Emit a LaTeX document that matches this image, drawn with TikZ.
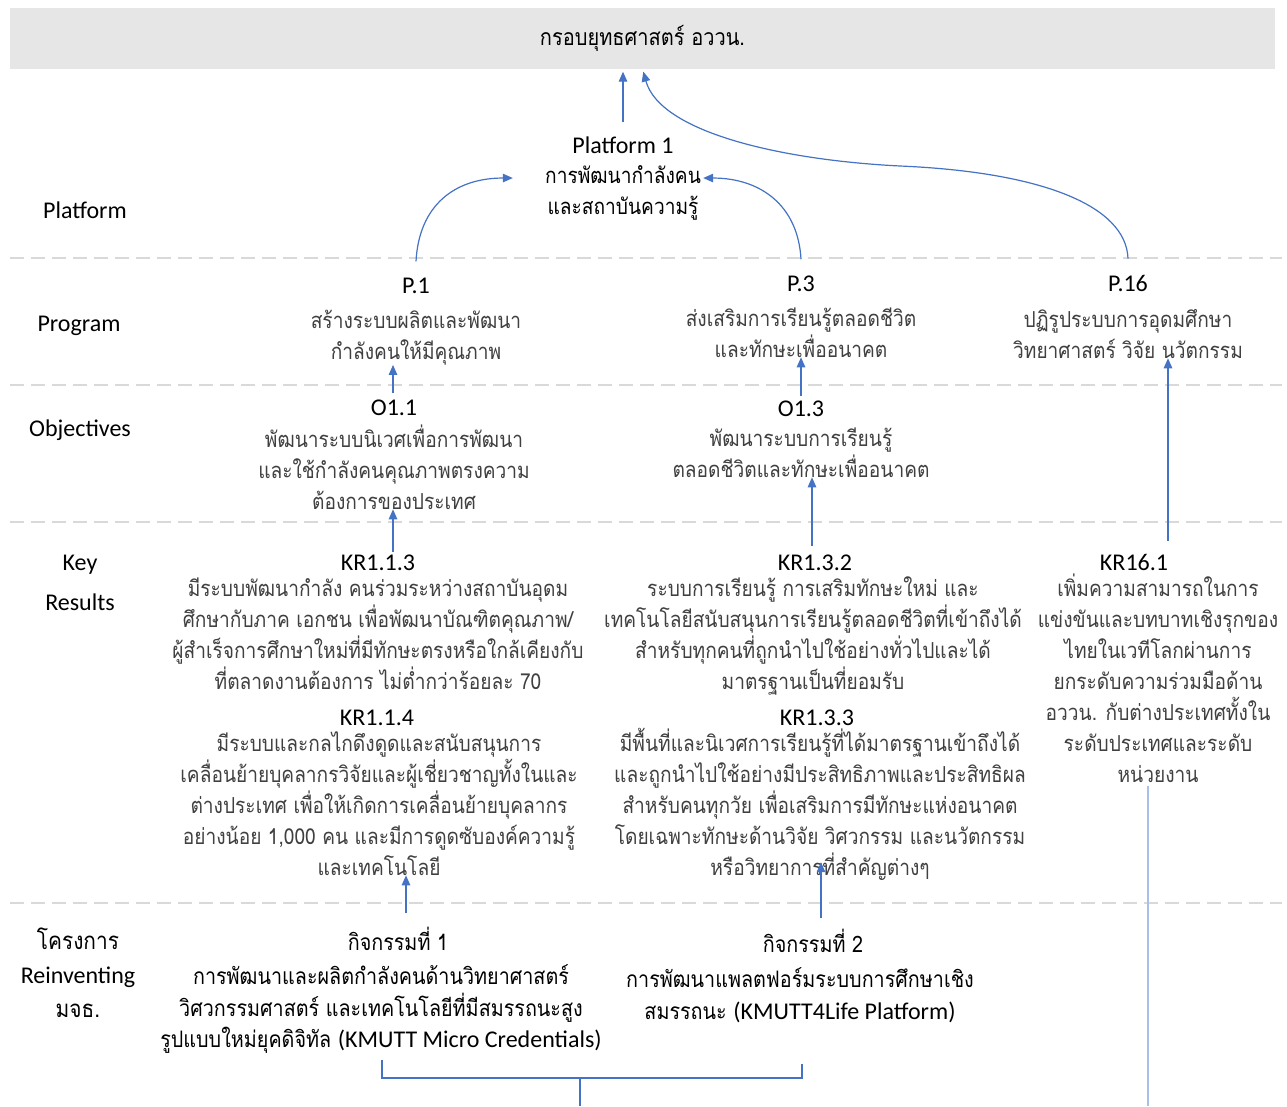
\documentclass[tikz,border=0pt]{standalone}
\usepackage{fontspec}
\setmainfont{Carlito}
\newfontfamily\thf[Script=Thai,FakeStretch=0.87]{Loma}
\usetikzlibrary{arrows.meta}
\definecolor{arrowblue}{HTML}{4472C4}
\definecolor{lightblue}{HTML}{A9C1EA}
\definecolor{dashgray}{HTML}{D9D9D9}
\definecolor{bannergray}{HTML}{E7E6E6}
\definecolor{bodygray}{HTML}{404040}
\newcommand\thx{\thf\fontsize{22}{31}\selectfont}
\newcommand\thact{\thf\fontsize{22.7}{31}\selectfont}
\newcommand\ttlx[1]{{\rmfamily\fontsize{24}{31}\selectfont\color{black}#1}}
\newcommand\latx[1]{{\rmfamily\fontsize{24}{31}\selectfont #1}}
\newcommand\bx[2]{\parbox[t]{#1}{\centering\fontsize{19}{31}\selectfont\leavevmode #2\par}}
\begin{document}
\begin{tikzpicture}[x=1pt,y=-1pt,
  blk/.style={anchor=base,inner sep=0pt,text=bodygray},
  blkb/.style={blk,text=black},
  lbl/.style={anchor=base,inner sep=0pt,text=black},
  arr/.style={draw=arrowblue,line width=1.2pt,-{Triangle[length=10pt,width=8.5pt]}},
  conn/.style={draw=arrowblue,line width=1.2pt},
  lconn/.style={draw=lightblue,line width=2pt},
  sep/.style={draw=dashgray,line width=2.5pt,dash pattern=on 14pt off 7pt}]
\useasboundingbox (0,0) rectangle (1287,1106);
\fill[white] (0,0) rectangle (1287,1106);

% banner
\node[fill=bannergray,minimum width=1265pt,minimum height=61pt,inner sep=0pt,text=black] (banner) at (642.5,38) {\thf\fontsize{23}{31}\selectfont กรอบยุทธศาสตร์ อววน.};

% separators
\draw[sep] (10,258) -- (1282,258);
\draw[sep] (10,385) -- (1282,385);
\draw[sep] (10,522) -- (1282,522);
\draw[sep] (10,903) -- (1282,903);

% row labels
\node[lbl] (lplat) at (85,218) {\bx{150pt}{\latx{Platform}}};
\node[lbl] (lprog) at (79,331) {\bx{150pt}{\latx{Program}}};
\node[lbl] (lobj) at (80,436) {\bx{150pt}{\latx{Objectives}}};
\node[lbl] (lkr) at (80,570) {\bx{150pt}{\fontsize{24}{40}\selectfont Key\\Results}};
\node[lbl] (lre) at (78,949) {\bx{150pt}{\fontsize{24}{34}\selectfont {\thf\fontsize{24}{34}\selectfont โครงการ}\\Reinventing\\{\thf\fontsize{24}{34}\selectfont มจธ.}}};

% platform
\node[blkb] (pl) at (623,153) {\bx{170pt}{\ttlx{Platform 1}\\[-1pt]\thx การพัฒนากำลังคน\\และสถาบันความรู้}};

% programs
\node[blk] (p1) at (416,293) {\bx{300pt}{\ttlx{P.1}\\[4pt]\thx สร้างระบบผลิตและพัฒนา\\กำลังคนให้มีคุณภาพ}};
\node[blk] (p3) at (801,291) {\bx{300pt}{\ttlx{P.3}\\[4pt]\thx ส่งเสริมการเรียนรู้ตลอดชีวิต\\และทักษะเพื่ออนาคต}};
\node[blk] (p16) at (1128,291) {\bx{300pt}{\ttlx{P.16}\\[5pt]\thx ปฏิรูประบบการอุดมศึกษา\\วิทยาศาสตร์ วิจัย นวัตกรรม}};

% objectives
\node[blk] (o11) at (394,415) {\bx{340pt}{\ttlx{O1.1}\\[1pt]\thx พัฒนาระบบนิเวศเพื่อการพัฒนา\\และใช้กำลังคนคุณภาพตรงความ\\ต้องการของประเทศ}};
\node[blk] (o13) at (801,416) {\bx{340pt}{\ttlx{O1.3}\\[-1pt]\thx พัฒนาระบบการเรียนรู้\\ตลอดชีวิตและทักษะเพื่ออนาคต}};

% key results
\node[blk] (kr113) at (378,570) {\bx{440pt}{\ttlx{KR1.1.3}\\[-5pt]\thx มีระบบพัฒนากำลัง คนร่วมระหว่างสถาบันอุดม\\ศึกษากับภาค เอกชน เพื่อพัฒนาบัณฑิตคุณภาพ/\\ผู้สำเร็จการศึกษาใหม่ที่มีทักษะตรงหรือใกล้เคียงกับ\\ที่ตลาดงานต้องการ ไม่ต่ำกว่าร้อยละ 70}};
\node[blk] (kr114) at (379,725) {\bx{440pt}{\ttlx{\hspace*{-4pt}KR1.1.4}\\[-5pt]\thx มีระบบและกลไกดึงดูดและสนับสนุนการ\\เคลื่อนย้ายบุคลากรวิจัยและผู้เชี่ยวชาญทั้งในและ\\ต่างประเทศ เพื่อให้เกิดการเคลื่อนย้ายบุคลากร\\อย่างน้อย 1,000 คน และมีการดูดซับองค์ความรู้\\และเทคโนโลยี}};
\node[blk] (kr132) at (813,570) {\bx{440pt}{\ttlx{\hspace*{4pt}KR1.3.2}\\[-5pt]\thx ระบบการเรียนรู้ การเสริมทักษะใหม่ และ\\เทคโนโลยีสนับสนุนการเรียนรู้ตลอดชีวิตที่เข้าถึงได้\\สำหรับทุกคนที่ถูกนำไปใช้อย่างทั่วไปและได้\\มาตรฐานเป็นที่ยอมรับ}};
\node[blk] (kr133) at (820,725) {\bx{440pt}{\ttlx{\hspace*{-6pt}KR1.3.3}\\[-5pt]\thx มีพื้นที่และนิเวศการเรียนรู้ที่ได้มาตรฐานเข้าถึงได้\\และถูกนำไปใช้อย่างมีประสิทธิภาพและประสิทธิผล\\สำหรับคนทุกวัย เพื่อเสริมการมีทักษะแห่งอนาคต\\โดยเฉพาะทักษะด้านวิจัย วิศวกรรม และนวัตกรรม\\หรือวิทยาการที่สำคัญต่างๆ}};
\node[blk] (kr161) at (1158,570) {\bx{260pt}{\ttlx{\hspace*{-48pt}KR16.1}\\[-5pt]\thx เพิ่มความสามารถในการ\\แข่งขันและบทบาทเชิงรุกของ\\ไทยในเวทีโลกผ่านการ\\ยกระดับความร่วมมือด้าน\\อววน. กับต่างประเทศทั้งใน\\ระดับประเทศและระดับ\\หน่วยงาน}};

% activities
\node[blkb] (act1) at (381,950) {\bx{480pt}{\thact\hspace*{34pt}กิจกรรมที่ 1\\[3pt]การพัฒนาและผลิตกำลังคนด้านวิทยาศาสตร์\\[1pt]วิศวกรรมศาสตร์ และเทคโนโลยีที่มีสมรรถนะสูง\\รูปแบบใหม่ยุคดิจิทัล \latx{(KMUTT Micro Credentials)}}};
\node[blkb] (act2) at (800,952) {\bx{420pt}{\thact\hspace*{26pt}กิจกรรมที่ 2\\[4pt]การพัฒนาแพลตฟอร์มระบบการศึกษาเชิง\\[1pt]สมรรถนะ \latx{(KMUTT4Life Platform)}}};

% connectors
\draw[arr,shorten >=3pt] ([yshift=14pt]pl.north) -- (pl.north |- banner.south);
\draw[arr,shorten >=3pt] ([yshift=16pt]p16.north) .. controls (1126,205) and (1040,172) .. (900,166)
   .. controls (780,160) and (660,132) .. (banner.south);
\draw[arr] ([yshift=16pt]p1.north) .. controls (419,205) and (455,178) .. ([xshift=-25pt]pl.west);
\draw[arr] ([yshift=16pt]p3.north) .. controls (798,205) and (760,178) .. ([xshift=-5pt]pl.east);
\draw[arr] ([xshift=-1pt,yshift=6pt]o11.north) -- ([xshift=-1pt]o11.north |- p1.south);
\draw[arr] ([yshift=4pt]o13.north) -- (o13.north |- p3.south);
\draw[arr] ([xshift=10pt,yshift=13pt]kr161.north) -- ([xshift=10pt]kr161.north |- p16.south);
\draw[arr] ([xshift=-1pt]o11.south |- kr113.north) ++(0,-2) -- ([xshift=-1pt]o11.south);
\draw[arr] ([xshift=-1pt,yshift=8pt]kr132.north) -- ([xshift=-1pt]kr132.north |- o13.south);
\draw[arr] ([xshift=25pt,yshift=13pt]act1.north) -- ([xshift=25pt]act1.north |- kr114.south);
\coordinate (a2top) at ([xshift=21pt]act2.north);
\draw[arr] ([yshift=10pt]a2top) -- ([yshift=18pt]a2top |- kr133.south);

\coordinate (brk) at (580,1078);
\coordinate (brkR) at (802,1064);
\coordinate (bot) at (580,1106);
\coordinate (botR) at (1148,1106);
\draw[conn] ([xshift=1pt,yshift=-7pt]act1.south) -- ([xshift=1pt]act1.south |- brk) -- (brkR |- brk) -- (brkR);
\draw[conn] (brk) -- (bot);
\draw[lconn] (botR |- kr161.south) ++(0,4) -- (botR);
\end{tikzpicture}
\end{document}
